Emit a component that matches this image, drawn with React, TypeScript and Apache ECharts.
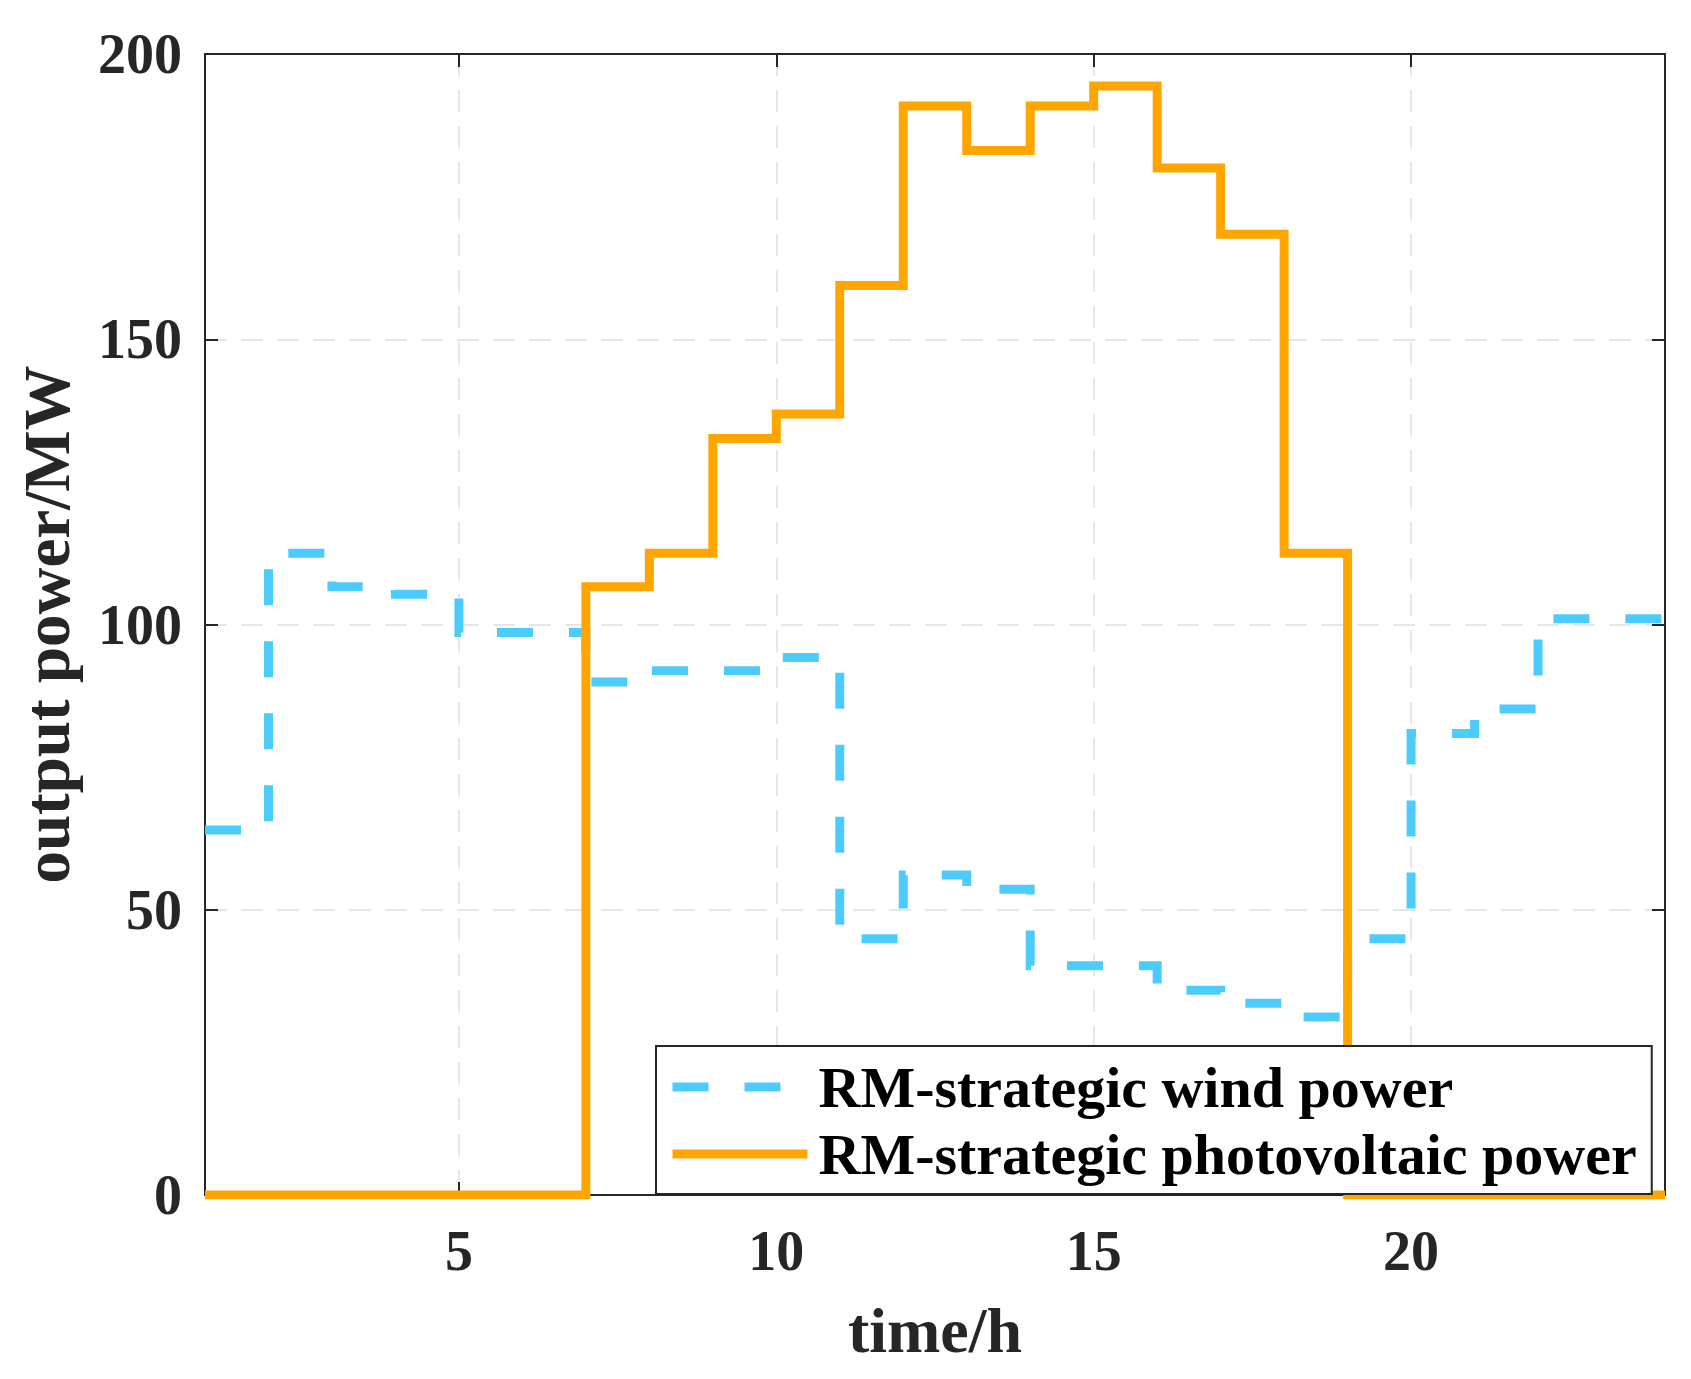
import React, { useEffect, useRef } from "react";
import * as echarts from "echarts";

const hours = [1, 2, 3, 4, 5, 6, 7, 8, 9, 10, 11, 12, 13, 14, 15, 16, 17, 18, 19, 20, 21, 22, 23, 24];
const windPower = [64, 112.5, 106.6, 105.3, 98.6, 98.6, 89.9, 91.9, 91.9, 94.2, 44.9, 56.1, 53.6, 40.2, 40.2, 35.9, 33.6, 31.2, 44.9, 80.9, 85.2, 101.0, 101.0, 101.0];
const pvPower = [0, 0, 0, 0, 0, 0, 106.6, 112.5, 132.6, 136.9, 159.4, 190.9, 183.1, 190.9, 194.4, 180.0, 168.4, 112.5, 0, 0, 0, 0, 0, 0];
const xTickLabels = [5, 10, 15, 20];
const yMin = 0;
const yMax = 200;
const yStep = 50;
const seriesNames = ["RM-strategic wind power", "RM-strategic photovoltaic power"];
const xTitle = "time/h";
const yTitle = "output power/MW";

const FONT = "'Liberation Serif', 'Times New Roman', serif";
const AXIS_COLOR = "#262626";

export default function App() {
  const ref = useRef<HTMLDivElement>(null);
  useEffect(() => {
    document.body.style.margin = "0";
    const chart = echarts.init(ref.current as HTMLDivElement, null, { renderer: "svg" });
    const xMin = hours[0];
    const xMax = hours[hours.length - 1];
    const axisLine = { show: true, onZero: false, lineStyle: { color: AXIS_COLOR, width: 2 } };
    const axisTick = { show: true, inside: true, length: 13, lineStyle: { color: AXIS_COLOR, width: 2 } };
    const splitLine = { show: true, lineStyle: { color: "#e6e6e6", width: 2, type: [22, 14] } };
    const option: any = {
      animation: false,
      backgroundColor: "#ffffff",
      grid: { left: 205, top: 54, width: 1460, height: 1141, containLabel: false },
      xAxis: [
        {
          type: "value",
          position: "bottom",
          min: xMin,
          max: xMax,
          minInterval: 5,
          maxInterval: 5,
          splitNumber: 5,
          axisLine,
          axisTick,
          splitLine,
          axisLabel: {
            show: true,
            margin: 28,
            fontFamily: FONT,
            fontWeight: "bold",
            fontSize: 56,
            color: AXIS_COLOR,
            formatter: (v: number) => (xTickLabels.includes(v) ? String(v) : ""),
          },
          name: xTitle,
          nameLocation: "middle",
          nameGap: 103,
          nameTextStyle: { fontFamily: FONT, fontWeight: "bold", fontSize: 64, color: AXIS_COLOR },
        },
        {
          type: "value",
          position: "top",
          min: xMin,
          max: xMax,
          minInterval: 5,
          maxInterval: 5,
          splitNumber: 5,
          axisLine,
          axisTick,
          splitLine: { show: false },
          axisLabel: { show: false },
        },
      ],
      yAxis: [
        {
          type: "value",
          position: "left",
          min: yMin,
          max: yMax,
          interval: yStep,
          axisLine,
          axisTick,
          splitLine,
          axisLabel: {
            show: true,
            margin: 23,
            fontFamily: FONT,
            fontWeight: "bold",
            fontSize: 56,
            color: AXIS_COLOR,
          },
          name: yTitle,
          nameLocation: "middle",
          nameGap: 126,
          nameRotate: 90,
          nameTextStyle: {
            fontFamily: FONT,
            fontWeight: "bold",
            fontSize: 65,
            color: AXIS_COLOR,
          },
        },
        {
          type: "value",
          position: "right",
          min: yMin,
          max: yMax,
          interval: yStep,
          axisLine,
          axisTick,
          splitLine: { show: false },
          axisLabel: { show: false },
        },
      ],
      legend: {
        show: true,
        orient: "vertical",
        left: 656,
        top: 1046,
        data: seriesNames,
        selectedMode: false,
        backgroundColor: "#ffffff",
        borderColor: AXIS_COLOR,
        borderWidth: 2,
        borderRadius: 0,
        padding: [11, 15, 10, 12],
        itemWidth: 135,
        itemHeight: 12,
        itemGap: 7,
        itemStyle: { opacity: 0 },
        lineStyle: { width: 9 },
        textStyle: {
          fontFamily: FONT,
          fontWeight: "bold",
          fontSize: 58,
          lineHeight: 60,
          color: "#000000",
          padding: [0, 0, 0, 6],
        },
      },
      series: [
        {
          name: seriesNames[0],
          type: "line",
          step: "end",
          xAxisIndex: 0,
          yAxisIndex: 0,
          symbol: "none",
          showSymbol: false,
          silent: true,
          data: hours.map((h, i) => [h, windPower[i]]),
          itemStyle: { color: "#4ccbfd" },
          lineStyle: { color: "#4ccbfd", width: 9, type: [36, 36], cap: "butt", join: "miter" },
          z: 2,
        },
        {
          name: seriesNames[1],
          type: "line",
          step: "end",
          xAxisIndex: 0,
          yAxisIndex: 0,
          symbol: "none",
          showSymbol: false,
          silent: true,
          data: hours.map((h, i) => [h, pvPower[i]]),
          itemStyle: { color: "#ffa500" },
          lineStyle: { color: "#ffa500", width: 9, type: "solid", cap: "butt", join: "miter" },
          z: 3,
        },
      ],
    };
    chart.setOption(option);
    return () => chart.dispose();
  }, []);
  return <div ref={ref} style={{ width: 1691, height: 1379, overflow: "hidden" }} />;
}
